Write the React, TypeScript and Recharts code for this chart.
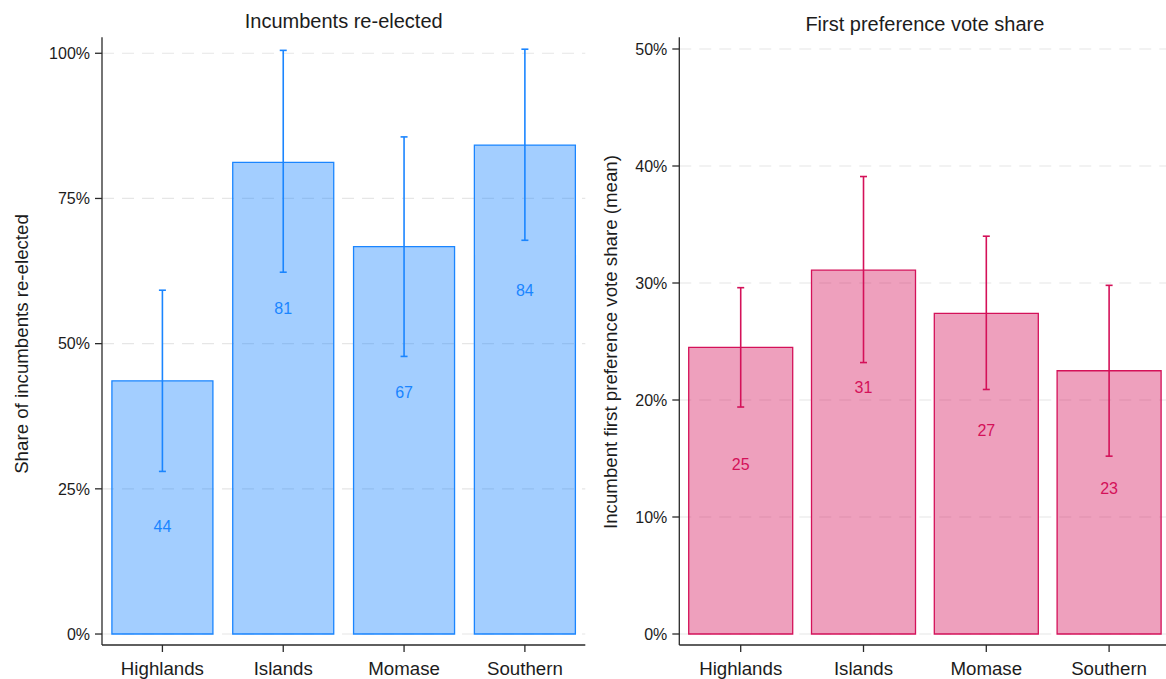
import React from 'react';
import {
  BarChart,
  Bar,
  XAxis,
  YAxis,
  CartesianGrid,
  ErrorBar,
  LabelList,
} from 'recharts';

// Regions shown on both panels
const regions = ['Highlands', 'Islands', 'Momase', 'Southern'];

// Share of incumbents re-elected (%), with 95% confidence bounds
const reelectedShare = [43.6, 81.2, 66.7, 84.2];
const reelectedLow = [28.0, 62.3, 47.8, 67.8];
const reelectedHigh = [59.2, 100.5, 85.6, 100.7];

// Mean incumbent first preference vote share (%), with 95% confidence bounds
const voteShare = [24.5, 31.1, 27.4, 22.5];
const voteLow = [19.4, 23.2, 20.9, 15.2];
const voteHigh = [29.6, 39.1, 34.0, 29.8];

// Axis ticks
const reelectedTicks = [0, 25, 50, 75, 100];
const voteTicks = [0, 10, 20, 30, 40, 50];

const BLUE = '#1a85ff';
const PINK = '#d41159';
const FONT = '"Liberation Sans", Arial, Helvetica, sans-serif';
const INK = '#1c1c1c';

const buildRows = (values: number[], low: number[], high: number[]) =>
  regions.map((region, i) => ({
    region,
    value: values[i],
    err: [values[i] - low[i], high[i] - values[i]],
  }));

const reelectedRows = buildRows(reelectedShare, reelectedLow, reelectedHigh);
const voteRows = buildRows(voteShare, voteLow, voteHigh);

// Value label drawn one tick step below the top of its bar
const makeValueLabel = (step: number, color: string) => (props: any) => {
  const vb = props.viewBox ?? props;
  const x = Number(vb.x);
  const y = Number(vb.y);
  const w = Number(vb.width);
  const h = Number(vb.height);
  const value = Number(props.value);
  if (!isFinite(value) || value === 0) return null;
  const pos = y + h * (step / value);
  return (
    <text
      x={x + w / 2}
      y={pos}
      dy={6}
      textAnchor="middle"
      fill={color}
      fontSize={16}
      fontFamily={FONT}
    >
      {Math.round(value)}
    </text>
  );
};

const makeAxisTitle = (text: string, x: number, cy: number) => () => (
  <text
    x={x}
    y={cy}
    transform={`rotate(-90 ${x} ${cy})`}
    textAnchor="middle"
    fill={INK}
    fontSize={18.7}
    fontFamily={FONT}
  >
    {text}
  </text>
);

// Horizontal grid lines only at the listed ticks
const makeGridRows =
  (ticks: number[], domain: [number, number]) => (props: any) => {
    const scale = props?.yAxis?.scale;
    if (typeof scale === 'function') return ticks.map((t) => scale(t));
    const { top, height } = props.offset;
    return ticks.map(
      (t) => top + (height * (domain[1] - t)) / (domain[1] - domain[0])
    );
  };

const xTickStyle = { fontSize: 18.7, fill: INK, fontFamily: FONT };
const yTickStyle = { fontSize: 16, fill: INK, fontFamily: FONT };
const axisStroke = { stroke: '#2a2a2a', strokeWidth: 1.3 };

interface PanelProps {
  rows: { region: string; value: number; err: number[] }[];
  color: string;
  ticks: number[];
  domain: [number, number];
  step: number;
  width: number;
  marginRight: number;
  yAxisWidth: number;
  gap: string;
  axisTitle: string;
  axisTitleX: number;
  axisTitleY: number;
}

const Panel = (p: PanelProps) => (
  <BarChart
    width={p.width}
    height={679}
    data={p.rows}
    margin={{ top: 37.3, right: p.marginRight, bottom: 0, left: 0 }}
    barCategoryGap={p.gap}
  >
    <CartesianGrid
      vertical={false}
      horizontal={true}
      horizontalCoordinatesGenerator={makeGridRows(p.ticks, p.domain)}
      stroke="#e6e6e6"
      strokeDasharray="12 8"
      strokeWidth={1.2}
    />
    <XAxis
      dataKey="region"
      type="category"
      height={34}
      tickSize={7}
      tickMargin={10}
      tick={xTickStyle}
      axisLine={axisStroke}
      tickLine={axisStroke}
      interval={0}
    />
    <YAxis
      type="number"
      width={p.yAxisWidth}
      domain={p.domain}
      allowDataOverflow={true}
      ticks={p.ticks}
      interval={0}
      tickSize={7}
      tickMargin={5}
      tick={yTickStyle}
      tickFormatter={(v: number) => `${v}%`}
      axisLine={axisStroke}
      tickLine={axisStroke}
      label={{ content: makeAxisTitle(p.axisTitle, p.axisTitleX, p.axisTitleY) }}
    />
    <Bar
      dataKey="value"
      fill={p.color}
      fillOpacity={0.4}
      stroke={p.color}
      strokeWidth={1.3}
      isAnimationActive={false}
    >
      <ErrorBar
        dataKey="err"
        direction="y"
        width={3.5}
        stroke={p.color}
        strokeWidth={1.6}
        isAnimationActive={false}
      />
      <LabelList dataKey="value" content={makeValueLabel(p.step, p.color)} />
    </Bar>
  </BarChart>
);

export default function App() {
  return (
    <div
      style={{
        position: 'fixed',
        left: 0,
        top: 0,
        width: 1166,
        height: 679,
        overflow: 'hidden',
        background: '#ffffff',
        fontFamily: FONT,
      }}
    >
      <div style={{ position: 'absolute', left: 0, top: 0 }}>
        <Panel
          rows={reelectedRows}
          color={BLUE}
          ticks={reelectedTicks}
          domain={[-1.89, 102.75]}
          step={25}
          width={600}
          marginRight={14.7}
          yAxisWidth={102}
          gap="8.2%"
          axisTitle="Share of incumbents re-elected"
          axisTitleX={27.5}
          axisTitleY={344}
        />
      </div>
      <div style={{ position: 'absolute', left: 590, top: 0 }}>
        <Panel
          rows={voteRows}
          color={PINK}
          ticks={voteTicks}
          domain={[-0.94, 51]}
          step={10}
          width={590}
          marginRight={9.5}
          yAxisWidth={89.3}
          gap="7.66%"
          axisTitle="Incumbent first preference vote share (mean)"
          axisTitleX={26.5}
          axisTitleY={342}
        />
      </div>
      <svg
        width={1166}
        height={679}
        style={{ position: 'absolute', left: 0, top: 0, pointerEvents: 'none' }}
      >
        <text x={343.7} y={27.7} textAnchor="middle" fill={INK} fontSize={20} fontFamily={FONT}>
          Incumbents re-elected
        </text>
        <text x={924.9} y={31} textAnchor="middle" fill={INK} fontSize={20} fontFamily={FONT}>
          First preference vote share
        </text>
      </svg>
    </div>
  );
}
